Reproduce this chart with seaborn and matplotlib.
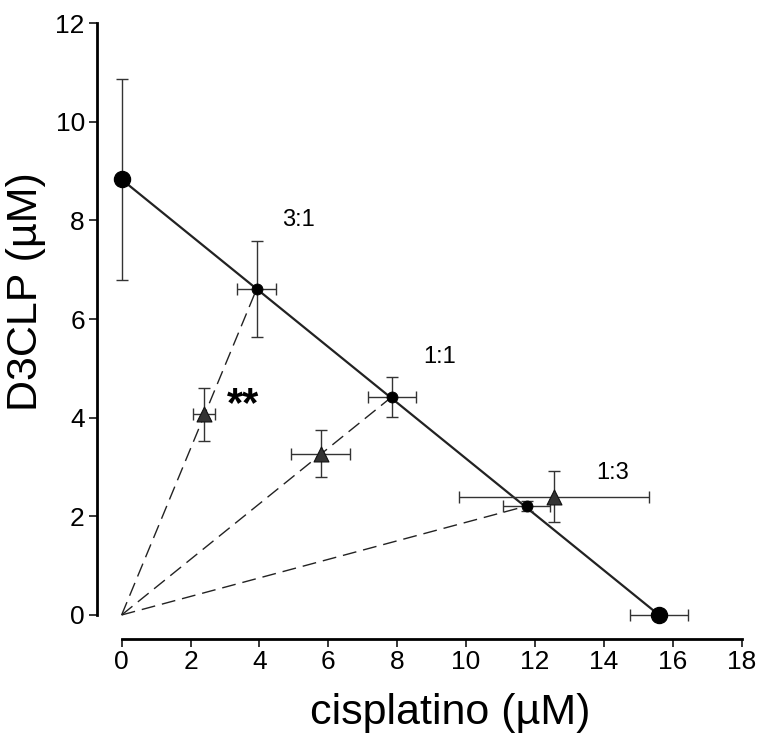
import matplotlib
matplotlib.use('Agg')
import matplotlib.pyplot as plt
import seaborn as sb
import pandas as pd

# single agents: D3CLP alone (x=0) and cisplatino alone (y=0)
single_x = [0.0, 15.6]
single_y = [8.83, 0.0]
single_xerr = [0.0, 0.85]
single_yerr = [2.03, 0.0]

# theoretical additive points on the isobole
ratios = ['3:1', '1:1', '1:3']
add_x = [3.92, 7.84, 11.76]
add_y = [6.61, 4.42, 2.21]
add_xerr = [0.57, 0.70, 0.68]
add_yerr = [0.97, 0.40, 0.10]

# experimental combination points
exp_x = [2.39, 5.78, 12.55]
exp_y = [4.07, 3.27, 2.40]
exp_xerr = [0.31, 0.86, 2.76]
exp_yerr = [0.54, 0.48, 0.51]

x_ticks = [0, 2, 4, 6, 8, 10, 12, 14, 16, 18]
y_ticks = [0, 2, 4, 6, 8, 10, 12]

sb.set_theme(style='ticks')
plt.rcParams['font.family'] = ['Liberation Sans', 'DejaVu Sans']

fig = plt.figure(figsize=(7.65, 7.38), dpi=100)
ax = fig.add_axes([0.159, 0.1667, 0.8105, 0.802])

ecol = '#333333'

# dashed rays from origin to each additive point
for xa, ya in zip(add_x, add_y):
    ax.plot([0, xa], [0, ya], color='#222222', lw=1.0, dashes=(10, 5),
            clip_on=False, zorder=2)

# additive isobole
iso = pd.DataFrame({'x': single_x, 'y': single_y})
sb.lineplot(data=iso, x='x', y='y', color='#222222', lw=1.6, ax=ax,
            zorder=3, clip_on=False)

# error bars
ebkw = dict(fmt='none', ecolor=ecol, elinewidth=1.0, capsize=4.5, capthick=1.0, zorder=4)
ax.errorbar(single_x, single_y, xerr=single_xerr, yerr=single_yerr, clip_on=False, **ebkw)
ax.errorbar(add_x, add_y, xerr=add_xerr, yerr=add_yerr, **ebkw)
ax.errorbar(exp_x, exp_y, xerr=exp_xerr, yerr=exp_yerr, **ebkw)

# markers
sb.scatterplot(x=single_x, y=single_y, s=135, color='black', marker='o',
               edgecolor='black', ax=ax, zorder=5, clip_on=False)
sb.scatterplot(x=add_x, y=add_y, s=62, color='black', marker='o',
               edgecolor='black', ax=ax, zorder=5)
sb.scatterplot(x=exp_x, y=exp_y, s=115, color='#333333', marker='^',
               edgecolor='#111111', linewidth=0.8, ax=ax, zorder=5)

# ratio labels
label_x = [5.12, 9.24, 14.26]
label_y = [8.00, 5.23, 2.88]
for lab, lx, ly in zip(ratios, label_x, label_y):
    ax.text(lx, ly, lab, fontsize=17, ha='center', va='center', color='black')

ax.text(3.53, 4.25, '**', fontsize=30, fontweight='bold',
        ha='center', va='center', color='black')

ax.set_xlim(0, 18)
ax.set_ylim(0, 12)
ax.set_xticks(x_ticks)
ax.set_yticks(y_ticks)
ax.tick_params(axis='both', labelsize=19, width=1.1, length=5.5, direction='out',
               colors='black', labelcolor='black', pad=3)

for side in ['top', 'right']:
    ax.spines[side].set_visible(False)
ax.spines['left'].set_position(('outward', 18))
ax.spines['bottom'].set_position(('outward', 17))
for side in ['left', 'bottom']:
    ax.spines[side].set_linewidth(2.0)
    ax.spines[side].set_color('black')

ax.set_xlabel('cisplatino (µM)', fontsize=31, color='black')
ax.set_ylabel('D3CLP (µM)', fontsize=31, color='black')
ax.xaxis.set_label_coords(0.53, -0.132)
ax.yaxis.set_label_coords(-0.122, 0.546)

plt.savefig('out.png', dpi=100)
